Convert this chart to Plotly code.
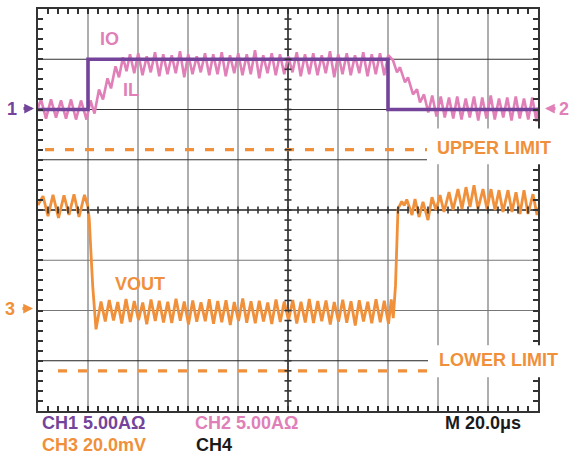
import plotly.graph_objects as go

# ---------------- data ----------------
# time in microseconds (20 us/div), currents in A relative to marker 1/2, VOUT in mV relative to marker 3
IO_T = [0, 20, 140, 200]
IO_A = [0, 5, 0, 0]

IL_T = [0, 1.2, 3.2, 5.2, 7.2, 9.2, 11.2, 13.2, 15.2, 17.2, 19.4,
        21.0, 22.6, 24.4, 26.0, 27.8, 29.2, 31.0, 32.4, 34.0, 35.4,
        36.8, 38.5, 40.1, 41.8, 43.5, 45.1, 46.8, 48.5, 50.1, 51.8, 53.5, 55.1, 56.8, 58.5, 60.1, 61.8,
        63.5, 65.1, 66.8, 68.5, 70.1, 71.8, 73.5, 75.1, 76.8, 78.5, 80.1, 81.8, 83.5, 85.1, 86.8, 88.5,
        90.1, 91.8, 93.5, 95.1, 96.8, 98.5, 100.1, 101.8, 103.5, 105.1, 106.8, 108.5, 110.1, 111.8, 113.5,
        115.1, 116.8, 118.5, 120.1, 121.8, 123.5, 125.1, 126.8, 128.5, 130.1, 131.8, 133.5, 135.1, 136.8,
        138.5, 140.1,
        142.0, 143.6, 144.8, 146.8, 148.0, 150.0, 151.6, 152.8,
        154.4, 156.1, 157.7, 159.4, 161.1, 162.7, 164.4, 166.1, 167.7, 169.4, 171.1, 172.7, 174.4, 176.1,
        177.7, 179.4, 181.1, 182.7, 184.4, 186.1, 187.7, 189.4, 191.1, 192.7, 194.4, 196.1, 197.7, 199.4, 200.0]
IL_A = [0.2, 1.0, -0.9, 1.0, -0.8, 0.9, -0.9, 1.0, -1.0, 0.9, -1.0,
        0.9, -0.4, 2.0, 1.0, 3.1, 2.1, 4.3, 3.2, 5.2, 3.8,
        5.5, 3.6, 5.6, 3.4, 5.3, 3.7, 5.7, 3.3, 5.5, 3.5, 5.4, 3.6, 5.8, 3.2, 5.5, 3.5,
        5.3, 3.7, 5.6, 3.4, 5.5, 3.5, 5.7, 3.3, 5.4, 3.6, 5.6, 3.4, 5.5, 3.5, 5.9, 3.1,
        5.4, 3.6, 5.6, 3.4, 5.5, 3.5, 5.3, 3.7, 5.7, 3.3, 5.5, 3.5, 5.6, 3.4, 5.4,
        3.6, 5.8, 3.2, 5.5, 3.5, 5.6, 3.4, 5.4, 3.6, 5.7, 3.3, 5.5, 3.5, 5.6,
        3.4, 5.4,
        4.9, 3.7, 4.2, 2.7, 3.2, 1.5, 2.0, 0.7,
        1.5, -0.3, 1.4, -0.7, 1.3, -0.8, 1.2, -0.9, 1.3, -1.0, 1.1, -0.8, 1.3, -1.1,
        1.2, -0.9, 1.4, -1.0, 1.1, -0.8, 1.2, -1.1, 1.3, -0.9, 1.1, -1.0, 1.2, -1.2, 0.2]

VOUT_T = [0, 2.0, 4.0, 6.0, 8.2, 10.4, 12.4, 14.4, 16.4, 18.6,
          19.9, 20.5, 21.2, 21.9, 23.2,
          25.2, 26.9, 28.5, 30.2, 31.9, 33.5, 35.2, 36.9, 38.5, 40.2, 41.9, 43.5, 45.2, 46.9, 48.5, 50.2,
          51.9, 53.5, 55.2, 56.9, 58.5, 60.2, 61.9, 63.5, 65.2, 66.9, 68.5, 70.2, 71.9, 73.5, 75.2, 76.9,
          78.5, 80.2, 81.9, 83.5, 85.2, 86.9, 88.5, 90.2, 91.9, 93.5, 95.2, 96.9, 98.5, 100.2, 101.9, 103.5,
          105.2, 106.9, 108.5, 110.2, 111.9, 113.5, 115.2, 116.9, 118.5, 120.2, 121.9, 123.5, 125.2, 126.9,
          128.5, 130.2, 131.9, 133.5, 135.2, 136.9, 138.5, 140.2,
          141.3, 142.1, 143.0, 144.0, 144.8, 145.5, 146.5, 147.5, 148.8,
          149.6, 150.8, 152.4, 154.0, 156.0, 157.6, 159.2, 160.8, 162.4, 164.4, 166.0, 168.0, 169.6, 171.2,
          172.8, 174.4, 176.0, 178.0, 179.6, 181.2, 182.8, 184.4, 186.0, 188.0, 189.6, 191.2, 192.8, 194.4,
          196.0, 198.0, 199.6, 200.0]
VOUT_MV = [42.0, 45.5, 37.5, 46.0, 36.8, 45.8, 38.0, 46.2, 37.2, 46.0,
           41.6, 36.4, 22.6, 9.5, -7.5,
           3.6, -4.4, 4.2, -4.0, 3.4, -5.2, 4.6, -4.6, 3.8, -3.8, 3.2, -5.5, 4.4, -4.2, 3.9, -4.8,
           3.5, -5.0, 4.7, -4.1, 3.6, -5.6, 4.0, -4.5, 3.3, -4.3, 4.5, -5.3, 3.8, -4.7, 4.1, -5.8,
           3.4, -4.2, 4.8, -4.9, 3.7, -5.1, 3.9, -4.4, 3.2, -5.4, 4.4, -4.6, 3.6, -4.0, 4.2, -5.2,
           3.5, -4.8, 4.6, -5.0, 3.8, -4.3, 4.0, -5.6, 3.4, -4.5, 4.3, -4.9, 3.7, -6.0,
           4.1, -4.4, 3.5, -5.1, 4.5, -4.7, 3.9, -5.3,
           4.4, -3.0, 10.0, 40.4, 42.4, 43.4, 41.8, 44.2, 40.4,
           38.0, 44.4, 37.2, 43.2, 36.0, 45.1, 40.0, 45.9, 39.2, 47.1, 40.0, 48.3, 40.4, 49.1,
           41.2, 49.9, 40.4, 48.3, 40.4, 48.3, 40.0, 47.9, 39.2, 47.9, 39.2, 47.1, 38.4, 47.9,
           38.4, 46.3, 38.0, 41.0]

UPPER_LIMIT_MV = 64
LOWER_LIMIT_MV = -24

CH_LABELS = ["CH1 5.00AΩ", "CH2 5.00AΩ", "M 20.0μs", "CH3 20.0mV", "CH4"]

# ---------------- styling ----------------
PURPLE = "#74449A"
PINK = "#E07FB8"
ORANGE = "#F0903A"
FONT = "Liberation Sans, Arial, sans-serif"
TICKC = "#333333"

W, H = 569, 454
L, R, T, B = 38, 31, 7, 43
PW, PH = W - L - R, H - T - B


def px(x):
    return (x - L) / PW


def py(y):
    return 1 - (y - T) / PH


fig = go.Figure()

fig.add_trace(go.Scatter(x=VOUT_T, y=VOUT_MV, yaxis="y2", mode="lines",
                         line=dict(color=ORANGE, width=2.8), hoverinfo="skip"))
fig.add_trace(go.Scatter(x=[2.8, 155.6], y=[UPPER_LIMIT_MV, UPPER_LIMIT_MV], yaxis="y2", mode="lines",
                         line=dict(color=ORANGE, width=3.2, dash="9px,11px"), hoverinfo="skip"))
fig.add_trace(go.Scatter(x=[8.0, 155.6], y=[LOWER_LIMIT_MV, LOWER_LIMIT_MV], yaxis="y2", mode="lines",
                         line=dict(color=ORANGE, width=3.2, dash="9px,11px"), hoverinfo="skip"))
fig.add_trace(go.Scatter(x=IL_T, y=IL_A, mode="lines",
                         line=dict(color=PINK, width=2.6), hoverinfo="skip"))
fig.add_trace(go.Scatter(x=IO_T, y=IO_A, mode="lines", line_shape="hv",
                         line=dict(color=PURPLE, width=3.6), hoverinfo="skip"))

shapes = []
# vertical grid lines (every division = 20 us)
for t in range(20, 200, 20):
    if t == 100:
        continue
    shapes.append(dict(type="line", xref="x", yref="y", x0=t, x1=t, y0=-30, y1=10,
                       line=dict(color="#8c8c8c", width=1.4), layer="below"))
# horizontal grid lines (every division = 5 A)
hcol = {5: "#333333", 0: "#333333", -5: "#333333", -15: "#777777", -20: "#777777", -25: "#222222"}
for a, c in hcol.items():
    shapes.append(dict(type="line", xref="x", yref="y", x0=0, x1=200, y0=a, y1=a,
                       line=dict(color=c, width=1.2), layer="below"))
# centre cross
shapes.append(dict(type="line", xref="x", yref="y", x0=100, x1=100, y0=-30, y1=10,
                   line=dict(color="#222222", width=1.6), layer="below"))
shapes.append(dict(type="line", xref="x", yref="y", x0=0, x1=200, y0=-10, y1=-10,
                   line=dict(color="#222222", width=1.6), layer="below"))
# centre-cross minor tick marks (every 0.2 div, both sides of the centre lines)
TC = 3.5
for i in range(1, 50):
    t = i * 4
    shapes.append(dict(type="line", xref="x", yref="paper", x0=t, x1=t,
                       y0=py(209 + TC), y1=py(209 - TC),
                       line=dict(color=TICKC, width=1.6), layer="above"))
for i in range(1, 40):
    a = -30 + i
    shapes.append(dict(type="line", xref="paper", yref="y", x0=px(288 - TC), x1=px(288 + TC),
                       y0=a, y1=a, line=dict(color=TICKC, width=1.6), layer="above"))
# white label boxes
shapes.append(dict(type="rect", xref="paper", yref="paper", x0=px(427), x1=px(569), y0=py(163), y1=py(127),
                   fillcolor="white", line=dict(width=0), layer="above"))
shapes.append(dict(type="rect", xref="paper", yref="paper", x0=px(428), x1=px(569), y0=py(377), y1=py(345),
                   fillcolor="white", line=dict(width=0), layer="above"))

ann = []


def text(s, x, y, color, anchor="left", size=18):
    ann.append(dict(text=f"<b>{s}</b>", xref="paper", yref="paper", x=px(x), y=py(y),
                    xanchor=anchor, yanchor="middle", showarrow=False,
                    font=dict(family=FONT, size=size, color=color)))


def arrow(xtip, y, ax, color):
    ann.append(dict(text="", xref="paper", yref="paper", x=px(xtip), y=py(y),
                    ax=ax, ay=0, showarrow=True, arrowhead=2, arrowsize=0.65,
                    arrowwidth=3, arrowcolor=color))


text("UPPER LIMIT", 435, 147, ORANGE)
text("LOWER LIMIT", 437, 360, ORANGE)
text("IO", 98, 37, PINK)
text("IL", 121, 88, PINK)
text("VOUT", 113, 283, ORANGE)
text("1", 11.5, 107, PURPLE, anchor="center")
text("3", 10, 308, ORANGE, anchor="center")
text("2", 564, 107, PINK, anchor="center")
arrow(34, 107, -12, PURPLE)
arrow(33, 308, -12, ORANGE)
arrow(545, 107, 12, PINK)

text(CH_LABELS[0], 40, 423, PURPLE)
text(CH_LABELS[1], 193, 423, PINK)
text(CH_LABELS[2], 443, 423, "#1a1a1a")
text(CH_LABELS[3], 40, 445, ORANGE)
text(CH_LABELS[4], 194, 445, "#1a1a1a")

hidden = dict(showgrid=False, zeroline=False, showticklabels=False, fixedrange=True)

fig.update_layout(
    width=W, height=H, margin=dict(l=L, r=R, t=T, b=B),
    paper_bgcolor="white", plot_bgcolor="white", showlegend=False,
    # frame axes with inside minor ticks on all four sides
    xaxis=dict(range=[0, 200], tick0=0, dtick=4, ticks="inside", ticklen=5, tickwidth=1.6,
               tickcolor=TICKC, showline=True, linecolor="#333333", linewidth=1.6, mirror="ticks", **hidden),
    yaxis=dict(range=[-30, 10], tick0=-30, dtick=1, ticks="inside", ticklen=5, tickwidth=1.6,
               tickcolor=TICKC, showline=True, linecolor="#333333", linewidth=1.6, mirror="ticks", **hidden),
    yaxis2=dict(range=[-40, 120], overlaying="y", side="right", ticks="", showline=False, **hidden),
    shapes=shapes, annotations=ann,
)

fig.write_html("out.html", config={"displayModeBar": False})
